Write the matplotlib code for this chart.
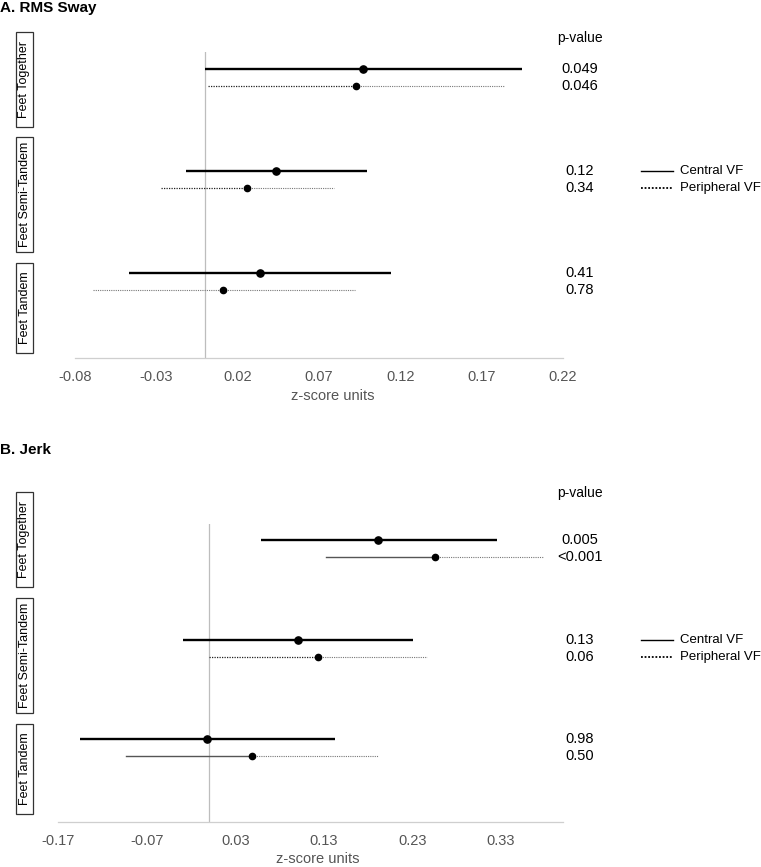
import numpy as np
import matplotlib
matplotlib.use("Agg")
import matplotlib.pyplot as plt
import matplotlib.transforms as mtransforms
from matplotlib.patches import Rectangle
from matplotlib.lines import Line2D

plt.rcParams['font.family'] = ['Liberation Sans', 'DejaVu Sans']

# data
conditions = ['Feet Together', 'Feet Semi-Tandem', 'Feet Tandem']

# A. RMS Sway
sway_central_est = [0.097, 0.0435, 0.034]
sway_central_lo = [0.0, -0.0115, -0.047]
sway_central_hi = [0.1945, 0.0995, 0.1145]
sway_periph_est = [0.0925, 0.026, 0.011]
sway_periph_lo = [0.002, -0.027, -0.069]
sway_periph_hi = [0.184, 0.079, 0.092]
sway_p_central = ['0.049', '0.12', '0.41']
sway_p_periph = ['0.046', '0.34', '0.78']
sway_ticks = [-0.08, -0.03, 0.02, 0.07, 0.12, 0.17, 0.22]

# B. Jerk
jerk_central_est = [0.191, 0.1005, -0.0015]
jerk_central_lo = [0.059, -0.0295, -0.1455]
jerk_central_hi = [0.326, 0.231, 0.143]
jerk_periph_est = [0.256, 0.123, 0.049]
jerk_periph_lo = [0.133, 0.0, -0.0935]
jerk_periph_hi = [0.378, 0.247, 0.191]
jerk_p_central = ['0.005', '0.13', '0.98']
jerk_p_periph = ['<0.001', '0.06', '0.50']
jerk_ticks = [-0.17, -0.07, 0.03, 0.13, 0.23, 0.33]

W, H = 761, 867
fig = plt.figure(figsize=(W / 100, H / 100), dpi=100)


def fx(px):
    return px / W


def fy(py):
    return 1 - py / H


off = 0.085  # half gap between central / peripheral rows


def draw_panel(ax, c_est, c_lo, c_hi, p_est, p_lo, p_hi, ticks, xmax, periph_style):
    ypos = np.arange(len(conditions))
    ax.axvline(0, color='#bdbdbd', lw=0.9, zorder=0)
    for i, y in enumerate(ypos):
        yc, yp = y - off, y + off
        ax.plot([c_lo[i], c_hi[i]], [yc, yc], color='black', lw=1.7, solid_capstyle='butt')
        ax.plot(c_est[i], yc, 'o', color='black', ms=5.2)
        left, right = periph_style[i]
        ax.plot([p_lo[i], p_est[i]], [yp, yp], **left)
        ax.plot([p_est[i], p_hi[i]], [yp, yp], **right)
        ax.plot(p_est[i], yp, 'o', color='black', ms=4.5)
    ax.set_ylim(2.75, -0.25)
    ax.set_xlim(ticks[0], xmax)
    ax.set_xticks(ticks)
    ax.set_xticklabels(['%.2f' % t for t in ticks])
    ax.set_yticks([])
    for s in ['left', 'right', 'top']:
        ax.spines[s].set_visible(False)
    ax.spines['bottom'].set_color('#cfcfcf')
    ax.spines['bottom'].set_linewidth(0.9)
    ax.tick_params(axis='x', length=0, pad=8.5, labelsize=10.5, labelcolor='#555555')
    ax.set_xlabel('z-score units', fontsize=10.5, color='#555555')
    return ypos


dot_dark = dict(color='#222222', lw=0.9, ls=(0, (1, 1)))
dot_light = dict(color='#777777', lw=0.8, ls=(0, (1, 1)))
solid_thin = dict(color='#555555', lw=1.0, ls='-')

# panel A
axA = fig.add_axes([fx(75), fy(358), fx(488), (358 - 52) / H])
yA = draw_panel(axA, sway_central_est, sway_central_lo, sway_central_hi,
                sway_periph_est, sway_periph_lo, sway_periph_hi, sway_ticks, 0.22,
                [(dot_dark, dot_light), (dot_dark, dot_light), (dot_light, dot_light)])
axA.xaxis.set_label_coords((333 - 75) / 488, -(389 - 358) / 306)

# panel B
axB = fig.add_axes([fx(58.3), fy(822.3), fx(504.4), (822.3 - 524) / H])
yB = draw_panel(axB, jerk_central_est, jerk_central_lo, jerk_central_hi,
                jerk_periph_est, jerk_periph_lo, jerk_periph_hi, jerk_ticks, 0.40,
                [(solid_thin, dot_light), (dot_dark, dot_light), (solid_thin, dot_light)])
axB.xaxis.set_label_coords((318 - 58.3) / 504.4, -(852 - 822.3) / 298.3)

# titles
fig.text(fx(0), fy(8), 'A. RMS Sway', fontsize=11, fontweight='bold', va='center', ha='left')
fig.text(fx(0), fy(450), 'B. Jerk', fontsize=11, fontweight='bold', va='center', ha='left')

# p-value columns and legends
for ax, ypos, pc, pp, head_y in [(axA, yA, sway_p_central, sway_p_periph, 38),
                                 (axB, yB, jerk_p_central, jerk_p_periph, 493)]:
    tr = mtransforms.blended_transform_factory(fig.transFigure, ax.transData)
    fig.text(fx(580), fy(head_y), 'p-value', fontsize=10, ha='center', va='center')
    for i, y in enumerate(ypos):
        fig.text(fx(580), y - off, pc[i], fontsize=10.5, ha='center', va='center', transform=tr)
        fig.text(fx(580), y + off, pp[i], fontsize=10.5, ha='center', va='center', transform=tr)
    # legend next to the middle group
    for dy, lab, style in [(-off, 'Central VF', dict(ls='-', lw=1.0)),
                           (off, 'Peripheral VF', dict(ls=(0, (1, 1)), lw=1.3))]:
        fig.add_artist(Line2D([fx(641), fx(673)], [ypos[1] + dy, ypos[1] + dy],
                              color='black', transform=tr, **style))
        fig.text(fx(680), ypos[1] + dy, lab, fontsize=9.5, ha='left', va='center', transform=tr)

# boxed row labels
boxes = [(32, 127), (137, 252), (263, 353), (492, 587), (598, 713), (724, 814)]
for k, (top, bot) in enumerate(boxes):
    lab = conditions[k % 3]
    fig.add_artist(Rectangle((fx(16), fy(bot)), fx(17), (bot - top) / H,
                             transform=fig.transFigure, fill=False, ec='#333333', lw=0.9))
    fig.text(fx(24.5), fy((top + bot) / 2), lab, rotation=90, fontsize=9,
             ha='center', va='center')

fig.savefig('out.png', dpi=100)
